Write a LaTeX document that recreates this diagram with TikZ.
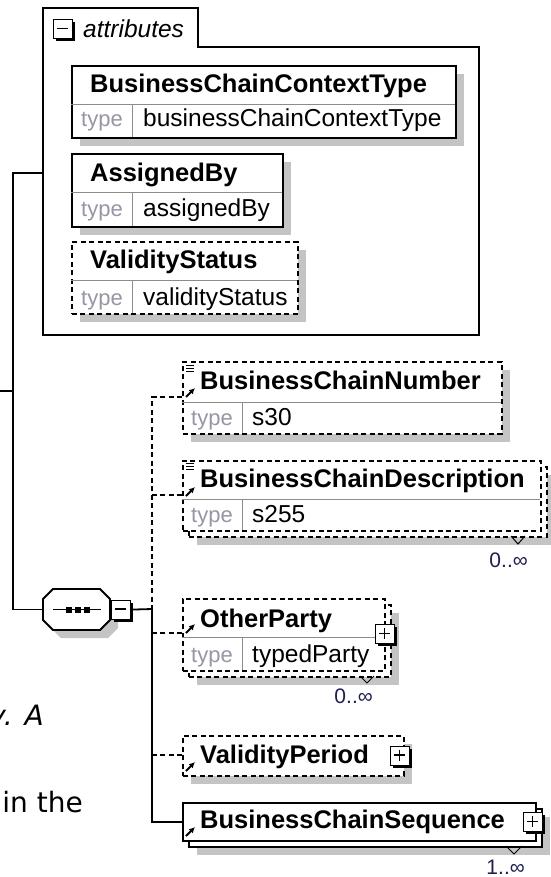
\documentclass[tikz,border=0pt]{standalone}
\usepackage{fontspec}
\setmainfont{Liberation Sans}
\newfontfamily\pagefont{DejaVu Sans}
\usetikzlibrary{shadows,arrows.meta}

\definecolor{shadowgray}{RGB}{196,196,196}
\definecolor{rulegray}{RGB}{140,140,140}
\definecolor{typegray}{RGB}{150,150,165}
\definecolor{cardnavy}{RGB}{30,30,80}

\tikzset{
  box/.style={draw, fill=white, line width=1.8pt, anchor=north west, inner sep=0pt},
  elem/.style={box, drop shadow={shadow xshift=8pt, shadow yshift=-8pt, fill=shadowgray, opacity=1}},
  opt/.style={dash pattern=on 5pt off 3.5pt},
  rowline/.style={draw=rulegray, line width=1pt},
  elname/.style={anchor=base west, inner sep=0pt, font=\fontsize{25.5}{30}\selectfont\bfseries},
  typ/.style={anchor=base west, inner sep=0pt, text=typegray, font=\fontsize{22}{26}\selectfont},
  val/.style={anchor=base west, inner sep=0pt, font=\fontsize{24.5}{29}\selectfont},
  card/.style={anchor=base east, inner sep=0pt, text=cardnavy, font=\fontsize{21}{25}\selectfont},
  btn/.style={draw, fill=white, line width=1.2pt, minimum size=19pt, inner sep=0pt, anchor=north west,
    drop shadow={shadow xshift=2.5pt, shadow yshift=-2.5pt, fill=black, opacity=1}},
  wire/.style={line width=1.8pt},
  refarrow/.style={-{Latex[length=6pt,width=6pt]}, line width=2pt},
  pmsign/.style={line width=1.4pt},
}

\begin{document}
\begin{tikzpicture}[x=1pt, y=-1pt]
\useasboundingbox (0,0) rectangle (550,877);

% Page text cut off at the left
\node[anchor=base east, inner sep=0pt, font=\pagefont\fontsize{28}{33}\selectfont\itshape] (textA) at (44,725) {y. A};
\node[anchor=base east, inner sep=0pt, font=\pagefont\fontsize{28}{33}\selectfont] (textB) at (83,812) {in the};

% Tree connectors
\coordinate (root) at (-2,391);
\coordinate (fork) at (13,391);
\coordinate (attrin) at (43,173);
\coordinate (bus) at (152,609);
\coordinate (numin) at (182,397);
\coordinate (descin) at (182,495);
\coordinate (partyin) at (182,633);
\coordinate (periodin) at (182,755);
\coordinate (chainin) at (182,822);
\node[minimum width=67pt, minimum height=41pt, inner sep=0pt] (seq) at (76.5,609.5) {};

\draw[wire] (root) -- (fork);
\draw[wire] (fork) |- (attrin);
\draw[wire] (fork) |- (seq.west);
\draw[wire, opt] (numin) -| (bus);
\draw[wire, opt] (descin) -- (descin -| bus);
\draw[wire, opt] (partyin) -- (partyin -| bus);
\draw[wire, opt] (periodin) -- (periodin -| bus);
\draw[wire] (bus) |- (chainin);

% Attributes container with its tab
\draw[wire, fill=white] (43,47) -- (43,8) -- (198,8) -- (198,47) -- (479,47) -- (479,335) -- (43,335) -- cycle;
\node[btn] (attrbtn) at (53,19) {};
\draw[pmsign] (57,28.5) -- (68,28.5);
\node[anchor=base west, inner sep=0pt, font=\fontsize{24.5}{29}\selectfont\itshape] (attrtxt) at (83,38) {attributes};

% BusinessChainContextType
\node[elem, minimum width=384pt, minimum height=72pt] (ctx) at (71,65) {};
\draw[rowline] (71,104.5) -- (455,104.5) (132,104.5) -- (132,137);
\node[elname] (ctxname) at (90,93) {BusinessChainContextType};
\node[typ] (ctxtyp) at (81,127) {type};
\node[val] (ctxval) at (143,127) {businessChainContextType};

% AssignedBy
\node[elem, minimum width=211pt, minimum height=73pt] (asg) at (71,153) {};
\draw[rowline] (71,193) -- (282,193) (132,193) -- (132,226);
\node[elname] (asgname) at (90,182) {AssignedBy};
\node[typ] (asgtyp) at (81,217) {type};
\node[val] (asgval) at (143,217) {assignedBy};

% ValidityStatus
\node[elem, opt, minimum width=226pt, minimum height=72pt] (vst) at (71,241) {};
\draw[rowline] (71,280) -- (297,280) (132,280) -- (132,313);
\node[elname] (vstname) at (90,268) {ValidityStatus};
\node[typ] (vsttyp) at (81,305) {type};
\node[val] (vstval) at (143,305) {validityStatus};

% Sequence compositor
\draw[wire, fill=white, drop shadow={shadow xshift=8pt, shadow yshift=-8pt, fill=shadowgray, opacity=1}]
  (43,599) -- (53,589) -- (100,589) -- (110,599) -- (110,620) -- (100,630) -- (53,630) -- (43,620) -- cycle;
\draw[line width=1.2pt] (53,609.5) -- (101,609.5);
\fill (65.5,606.5) rectangle (71.5,612.5);
\fill (74.5,606.5) rectangle (80.5,612.5);
\fill (83.5,606.5) rectangle (89.5,612.5);
\node[btn] (seqbtn) at (111,599.5) {};
\draw[pmsign] (115,609) -- (126,609);
\draw[wire] (seqbtn.east) -- (bus);

% BusinessChainNumber
\node[elem, opt, minimum width=319pt, minimum height=72pt] (num) at (182,361) {};
\draw[rowline] (182,402) -- (501,402) (242,402) -- (242,433);
\draw[line width=0.9pt] (186,365) -- (194,365) (186,368) -- (194,368) (186,371) -- (194,371);
\draw[refarrow] (186,397) -- (195,388);
\node[elname] (numname) at (200,389) {BusinessChainNumber};
\node[typ] (numtyp) at (191,425) {type};
\node[val] (numval) at (252,425) {s30};

% BusinessChainDescription
\node[elem, opt, minimum width=358pt, minimum height=70pt] (descback) at (188,466) {};
\node[box, opt, minimum width=358pt, minimum height=70pt] (desc) at (182,460) {};
\draw[rowline] (182,499) -- (540,499) (242,499) -- (242,530);
\draw[line width=0.9pt] (186,463) -- (194,463) (186,466) -- (194,466) (186,469) -- (194,469);
\draw[refarrow] (186,496) -- (195,487);
\node[elname] (descname) at (200,487) {BusinessChainDescription};
\node[typ] (desctyp) at (191,522) {type};
\node[val] (descval) at (252,522) {s255};
\draw[line width=1pt] (511,536) -- (518,544) -- (525,536);
\node[card] (desccard) at (528,567) {0..∞};

% OtherParty
\node[elem, opt, minimum width=202pt, minimum height=72pt] (partyback) at (188,604) {};
\node[box, opt, minimum width=202pt, minimum height=72pt] (party) at (182,598) {};
\draw[rowline] (182,637) -- (384,637) (242,637) -- (242,670);
\draw[refarrow] (186,633) -- (195,624);
\node[elname] (partyname) at (200,627) {OtherParty};
\node[typ] (partytyp) at (191,662) {type};
\node[val] (partyval) at (252,662) {typedParty};
\node[btn] (partybtn) at (375,624) {};
\draw[pmsign] (379,633.5) -- (390,633.5) (384.5,628) -- (384.5,639);
\draw[line width=1pt] (360,676) -- (367,683) -- (374,676);
\node[card] (partycard) at (373,703) {0..∞};

% ValidityPeriod
\node[elem, opt, minimum width=221pt, minimum height=40pt] (period) at (182,735) {};
\draw[refarrow] (186,771) -- (195,762);
\node[elname] (periodname) at (200,763) {ValidityPeriod};
\node[btn] (periodbtn) at (390,745.5) {};
\draw[pmsign] (394,755) -- (405,755) (399.5,749.5) -- (399.5,760.5);

% BusinessChainSequence
\node[elem, minimum width=353pt, minimum height=38pt] (chainback) at (188,808) {};
\node[box, minimum width=353pt, minimum height=38pt] (chain) at (182,802) {};
\draw[refarrow] (186,836) -- (195,827);
\node[elname] (chainname) at (200,828) {BusinessChainSequence};
\node[btn] (chainbtn) at (523,812) {};
\draw[pmsign] (527,821.5) -- (538,821.5) (532.5,816) -- (532.5,827);
\draw[line width=1pt] (506,846) -- (514,854) -- (522,846);
\node[card] (chaincard) at (525,874) {1..∞};
\end{tikzpicture}
\end{document}
